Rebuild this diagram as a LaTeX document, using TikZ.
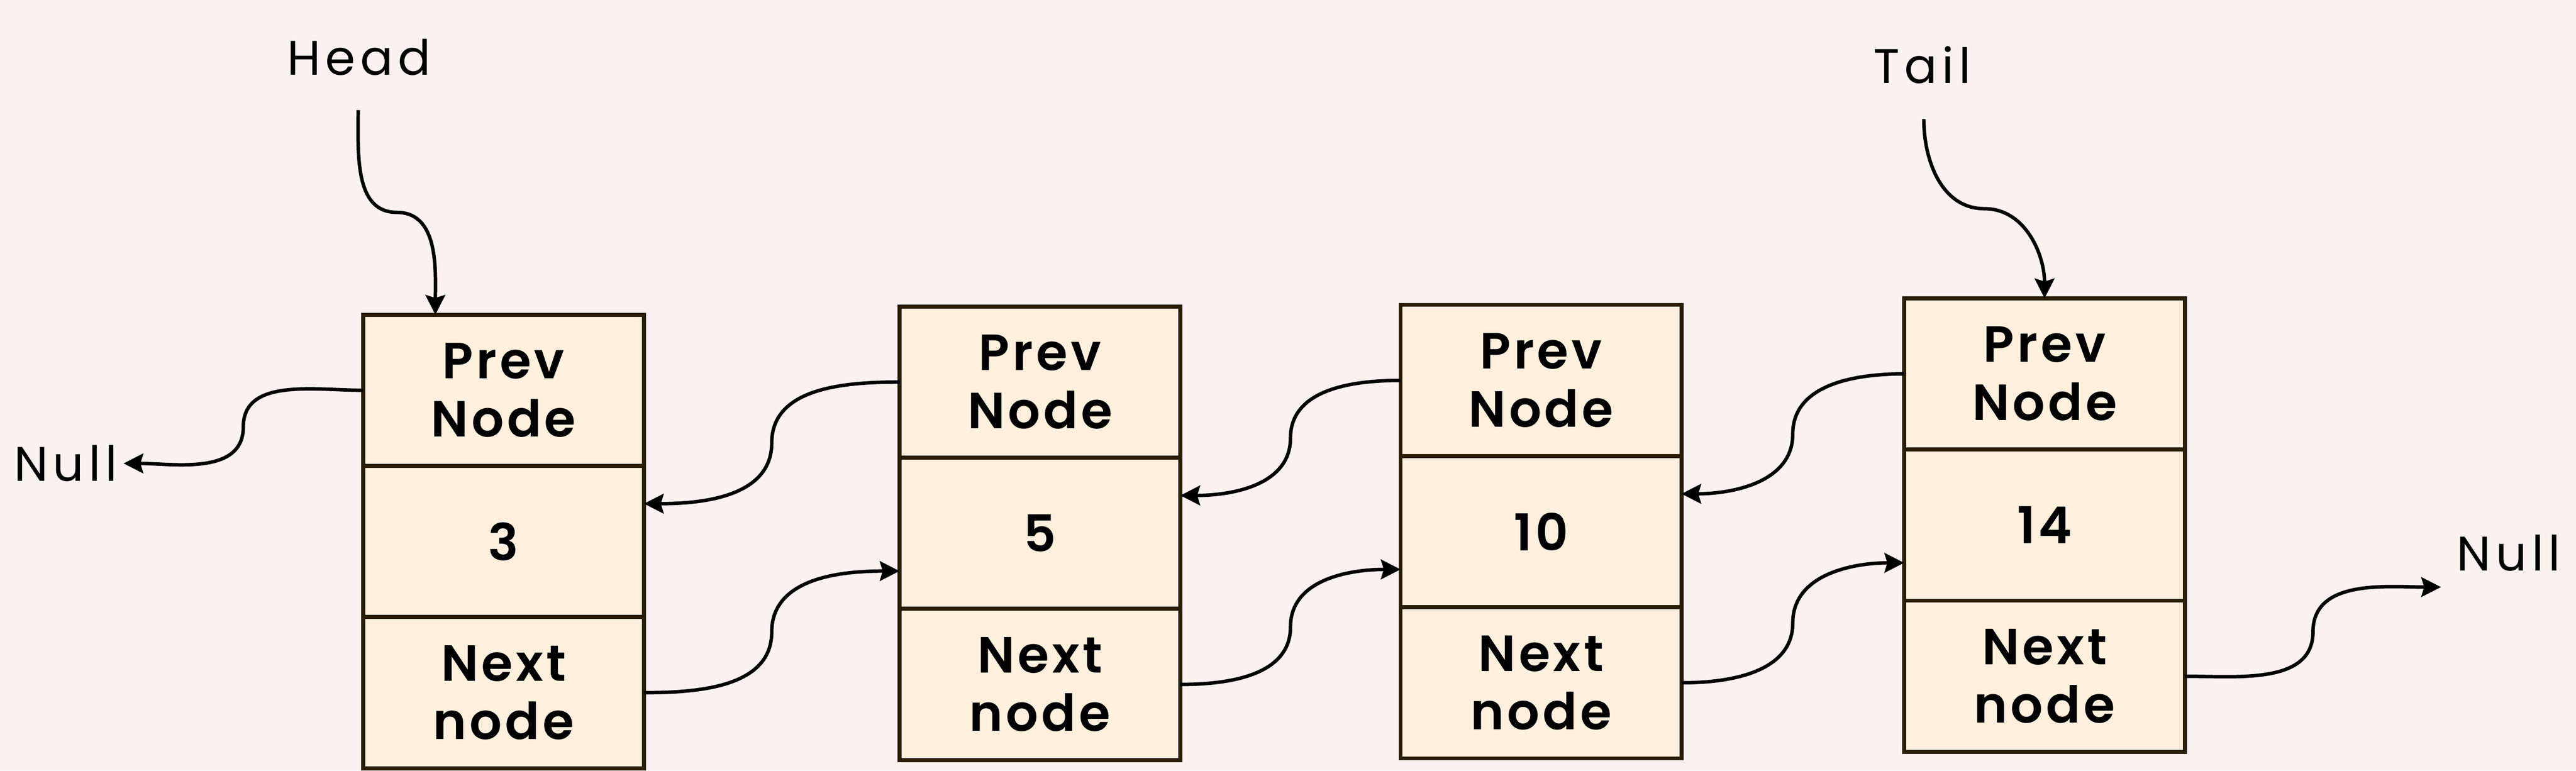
\documentclass[tikz,border=0pt]{standalone}
\usepackage{fontspec}
\setmainfont{Poppins}[BoldFont={Poppins SemiBold}]
\usetikzlibrary{positioning,arrows.meta,calc}
\definecolor{bgpink}{HTML}{FBF1F1}
\definecolor{cellfill}{HTML}{FFF0DE}
\definecolor{cellline}{HTML}{2A1D06}
\tikzset{
    cell/.style={draw=cellline,fill=cellfill,line width=0.7pt,minimum width=1.71cm,minimum height=0.92cm,
        inner sep=0pt,outer sep=0pt,align=center,font=\fontsize{8.8}{10.1}\selectfont\bfseries\addfontfeatures{LetterSpace=6}},
    tag/.style={inner sep=0.3mm,font=\fontsize{8.4}{10}\selectfont\addfontfeatures{LetterSpace=10}},
    link/.style={line width=0.6pt,-{Stealth[length=3.4pt,width=3.4pt,inset=0.5pt]}}
}

\begin{document}
\begin{tikzpicture}
    \fill[bgpink] (0,0) rectangle (15.68,4.69);
    \useasboundingbox (0,0) rectangle (15.68,4.69);
    % first node
    \node[cell] (p1) at (3.065,2.315) {Prev\\Node};
    \node[cell,below=0pt of p1] (v1) {3};
    \node[cell,below=0pt of v1] (n1) {Next\\node};
    % second node
    \node[cell] (p2) at (6.33,2.365) {Prev\\Node};
    \node[cell,below=0pt of p2] (v2) {5};
    \node[cell,below=0pt of v2] (n2) {Next\\node};
    % third node
    \node[cell] (p3) at (9.38,2.375) {Prev\\Node};
    \node[cell,below=0pt of p3] (v3) {10};
    \node[cell,below=0pt of v3] (n3) {Next\\node};
    % fourth node
    \node[cell] (p4) at (12.445,2.415) {Prev\\Node};
    \node[cell,below=0pt of p4] (v4) {14};
    \node[cell,below=0pt of v4] (n4) {Next\\node};
    % labels
    \node[tag] (head) at (2.185,4.34) {Head};
    \node[tag] (tail) at (11.70,4.295) {Tail};
    \node[tag] (nullL) at (0.40,1.87) {Null};
    \node[tag] (nullR) at (15.27,1.325) {Null};
    % end points
    \coordinate (headout) at (2.18,4.02);
    \coordinate (tailout) at (11.71,3.965);
    \coordinate (p1top) at ([xshift=-4.15mm]p1.north);
    \coordinate (nullRin) at ([xshift=-0.6mm,yshift=-0.6mm]nullR.south west);
    \coordinate (v1in) at ([yshift=2.3mm]v1.east);
    \coordinate (v2in) at ([yshift=2.3mm]v2.east);
    \coordinate (v3in) at ([yshift=2.3mm]v3.east);
    \coordinate (v2on) at ([yshift=-2.3mm]v2.west);
    \coordinate (v3on) at ([yshift=-2.3mm]v3.west);
    \coordinate (v4on) at ([yshift=-2.3mm]v4.west);
    % pointers
    \draw[link] (headout) to[out=-90,in=180] ($(headout)!.5!(p1top)$) to[out=0,in=90] (p1top);
    \draw[link] (tailout) to[out=-90,in=180] ($(tailout)!.5!(p4.north)$) to[out=0,in=90] (p4.north);
    \draw[link] (p1.west) to[out=180,in=90] ($(p1.west)!.5!(nullL.east)$) to[out=-90,in=0] (nullL.east);
    \draw[link] (n4.east) to[out=0,in=-90] ($(n4.east)!.5!(nullRin)$) to[out=90,in=180] (nullRin);
    % prev links
    \draw[link] (p2.west) to[out=180,in=90] ($(p2.west)!.5!(v1in)$) to[out=-90,in=0] (v1in);
    \draw[link] (p3.west) to[out=180,in=90] ($(p3.west)!.5!(v2in)$) to[out=-90,in=0] (v2in);
    \draw[link] (p4.west) to[out=180,in=90] ($(p4.west)!.5!(v3in)$) to[out=-90,in=0] (v3in);
    % next links
    \draw[link] (n1.east) to[out=0,in=-90] ($(n1.east)!.5!(v2on)$) to[out=90,in=180] (v2on);
    \draw[link] (n2.east) to[out=0,in=-90] ($(n2.east)!.5!(v3on)$) to[out=90,in=180] (v3on);
    \draw[link] (n3.east) to[out=0,in=-90] ($(n3.east)!.5!(v4on)$) to[out=90,in=180] (v4on);
\end{tikzpicture}
\end{document}
